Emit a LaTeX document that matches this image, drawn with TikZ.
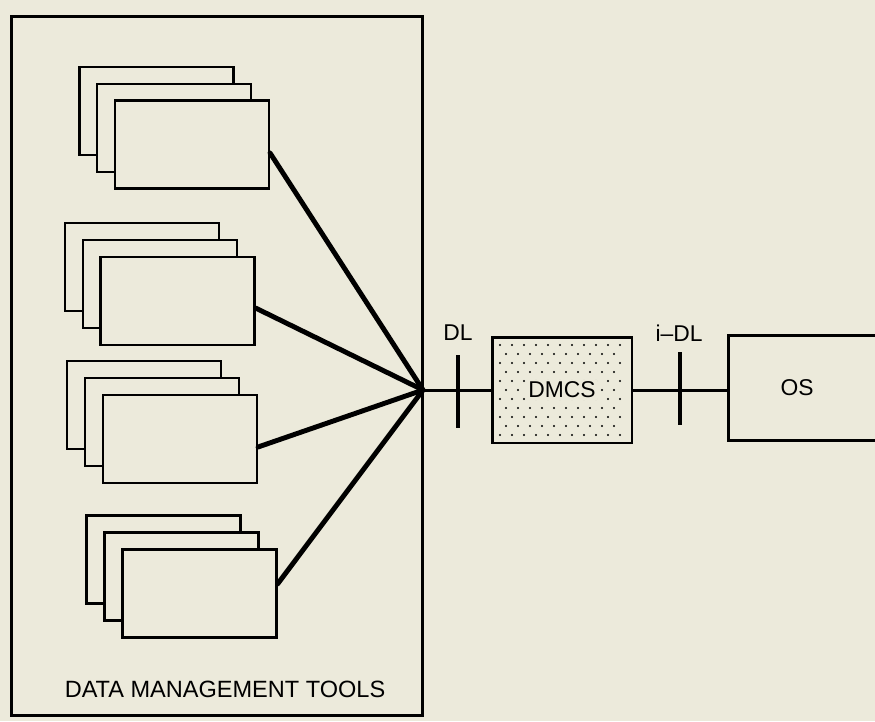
\documentclass[tikz,border=0pt]{standalone}
\usepackage{fontspec}
\setmainfont{Liberation Sans}
\definecolor{paper}{RGB}{236,234,219}
\tikzset{
  card/.style={draw, fill=paper, line width=1.2pt, inner sep=0pt, minimum width=3.08cm, minimum height=1.76cm},
  spoke/.style={line width=2.8pt, line cap=round},
  bar/.style={fill=black, inner sep=0pt, minimum width=0.07cm, minimum height=1.46cm},
  lbl/.style={font=\fontsize{13}{15}\selectfont}
}

\begin{document}
\begin{tikzpicture}[x=0.02cm, y=-0.02cm]
\fill[paper] (0,0) rectangle (875,721);
\useasboundingbox (0,0) rectangle (875,721);

\node[draw, line width=1.7pt, inner sep=0pt, minimum width=8.24cm, minimum height=14cm] (tools) at (217,366) {};
\node[font=\fontsize{13.4}{16}\selectfont] (toolslab) at (225,689) {DATA MANAGEMENT TOOLS};

% tool stacks
\node[card] (a1) at (156.5,111) {};
\node[card] (a2) at (174,128) {};
\node[card] (a3) at (192,144.5) {};
\node[card] (b1) at (142,267) {};
\node[card] (b2) at (160,284) {};
\node[card] (b3) at (177.5,301) {};
\node[card] (c1) at (144,405) {};
\node[card] (c2) at (162,422) {};
\node[card] (c3) at (180,439) {};
\node[card] (d1) at (163.5,559.5) {};
\node[card] (d2) at (181.5,576.5) {};
\node[card] (d3) at (199.5,593.5) {};

\coordinate (hub) at (423,390);
\draw[spoke] ([yshift=-0.17cm]a3.east) -- (hub);
\draw[spoke] ([yshift=-0.14cm]b3.east) -- (hub);
\draw[spoke] ([yshift=-0.16cm]c3.east) -- (hub);
\draw[spoke] ([yshift=0.19cm]d3.east) -- (hub);

% DMCS and OS
\node[draw, line width=1.7pt, inner sep=0pt, minimum width=2.8cm, minimum height=2.12cm] (dmcs) at (562,390) {};
\foreach \py in {345,363,...,435}
  \foreach \px in {500,512,...,624}
    \fill (\px,\py) circle (0.6pt);
\foreach \py in {354,372,...,435}
  \foreach \px in {506,518,...,624}
    \fill (\px,\py) circle (0.6pt);
\node[lbl, fill=paper, inner sep=1pt] (dmcslab) at (dmcs) {DMCS};
\node[draw, line width=1.7pt, inner sep=0pt, minimum width=3.2cm, minimum height=2.1cm] (os) at (808,388) {};
\node[lbl] (oslab) at (797,388) {OS};

\draw[line width=1.7pt] (hub) -- (dmcs.west);
\draw[line width=1.7pt] (dmcs.east) -- (dmcs.east -| os.west);

\node[bar] (dl) at (458,391) {};
\node[lbl] (dllab) at (458,333) {DL};
\node[bar] (idl) at (680,388) {};
\node[lbl] (idllab) at (679,333) {i--DL};
\end{tikzpicture}
\end{document}
